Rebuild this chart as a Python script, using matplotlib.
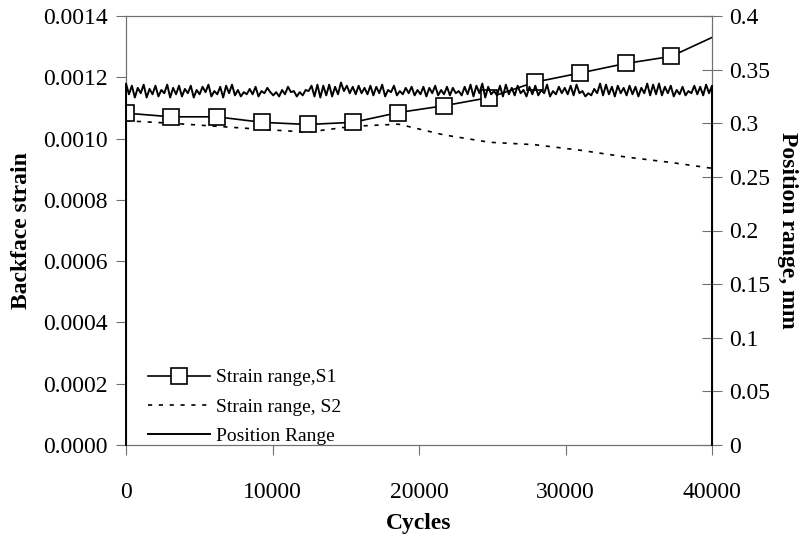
import numpy as np
import matplotlib
matplotlib.use("Agg")
import matplotlib.pyplot as plt

plt.rcParams['font.family'] = ['Liberation Serif', 'DejaVu Serif']

# Strain range S1 (markers every ~3100 cycles, final point without marker)
s1_cycles = [0, 3100, 6200, 9300, 12400, 15500, 18600, 21700, 24800, 27900, 31000, 34100, 37200, 40000]
s1_values = [0.001083, 0.001071, 0.001071, 0.001053, 0.001046, 0.001053, 0.001085,
             0.001107, 0.001134, 0.001184, 0.001214, 0.001245, 0.001268, 0.00133]

# Strain range S2
s2_cycles = [0, 3100, 6200, 9300, 12400, 15500, 18600, 21700, 24800, 27900, 31000, 34100, 37200, 40000]
s2_values = [0.001058, 0.001050, 0.001040, 0.001030, 0.001021, 0.001040, 0.001047,
             0.001012, 0.000988, 0.000980, 0.000962, 0.000940, 0.000922, 0.000903]

# Position range (mm), noisy record
pos_values = [
    0.337, 0.327, 0.335, 0.324, 0.333, 0.328, 0.336, 0.324, 0.332, 0.327,
    0.335, 0.325, 0.331, 0.328, 0.336, 0.324, 0.333, 0.327, 0.335, 0.325,
    0.332, 0.328, 0.335, 0.324, 0.331, 0.327, 0.334, 0.329, 0.336, 0.325,
    0.330, 0.327, 0.334, 0.324, 0.335, 0.328, 0.336, 0.326, 0.331, 0.325,
    0.329, 0.327, 0.332, 0.327, 0.334, 0.325, 0.330, 0.328, 0.333, 0.329,
    0.326, 0.329, 0.325, 0.331, 0.327, 0.334, 0.329, 0.330, 0.325, 0.329,
    0.326, 0.331, 0.330, 0.335, 0.325, 0.336, 0.324, 0.335, 0.326, 0.336,
    0.325, 0.334, 0.327, 0.338, 0.330, 0.335, 0.328, 0.334, 0.327, 0.335,
    0.328, 0.333, 0.327, 0.335, 0.326, 0.334, 0.328, 0.336, 0.325, 0.331,
    0.329, 0.335, 0.326, 0.330, 0.327, 0.333, 0.328, 0.334, 0.326, 0.331,
    0.327, 0.334, 0.325, 0.333, 0.328, 0.335, 0.326, 0.331, 0.327, 0.334,
    0.326, 0.333, 0.328, 0.330, 0.326, 0.334, 0.327, 0.336, 0.325, 0.335,
    0.328, 0.337, 0.324, 0.334, 0.327, 0.330, 0.326, 0.335, 0.325, 0.336,
    0.327, 0.333, 0.326, 0.335, 0.328, 0.331, 0.325, 0.334, 0.327, 0.335,
    0.326, 0.331, 0.328, 0.336, 0.325, 0.330, 0.327, 0.334, 0.328, 0.333,
    0.327, 0.335, 0.326, 0.336, 0.328, 0.330, 0.325, 0.328, 0.326, 0.332,
    0.328, 0.337, 0.326, 0.336, 0.327, 0.334, 0.325, 0.335, 0.328, 0.333,
    0.326, 0.335, 0.327, 0.334, 0.325, 0.333, 0.328, 0.337, 0.326, 0.336,
    0.327, 0.337, 0.326, 0.334, 0.328, 0.335, 0.325, 0.331, 0.327, 0.334,
    0.326, 0.330, 0.328, 0.335, 0.327, 0.334, 0.326, 0.336, 0.328, 0.335,
]
pos_cycles = [0.0] + list(np.linspace(0, 40000, len(pos_values))) + [40000.0]
pos_series = [0.0] + pos_values + [0.0]

left_ticks = [0.0, 0.0002, 0.0004, 0.0006, 0.0008, 0.0010, 0.0012, 0.0014]
left_ticklabels = ["0.0000", "0.0002", "0.0004", "0.0006", "0.0008", "0.0010", "0.0012", "0.0014"]
right_ticks = [0, 0.05, 0.1, 0.15, 0.2, 0.25, 0.3, 0.35, 0.4]
right_ticklabels = ["0", "0.05", "0.1", "0.15", "0.2", "0.25", "0.3", "0.35", "0.4"]
x_ticks = [0, 10000, 20000, 30000, 40000]
x_ticklabels = ["0", "10000", "20000", "30000", "40000"]

fig = plt.figure(figsize=(8.06, 5.46), dpi=100)
ax = fig.add_axes([126/806, 1 - 445/546, 586/806, 429/546])
ax2 = ax.twinx()

spine_col = '#707070'
for a in (ax, ax2):
    for s in a.spines.values():
        s.set_color(spine_col)
        s.set_linewidth(0.8)

l1, = ax.plot(s1_cycles, s1_values, color='black', lw=1.2, marker='s', markersize=11,
              markerfacecolor='white', markeredgecolor='black', markeredgewidth=1.2,
              markevery=list(range(13)), label='Strain range,S1', zorder=5)
l2, = ax.plot(s2_cycles, s2_values, color='black', lw=1.2, linestyle=(0, (2.5, 4)),
              label='Strain range, S2', zorder=4)
l3, = ax2.plot(pos_cycles, pos_series, color='black', lw=1.4, label='Position Range',
               clip_on=False, zorder=3)

ax.set_xlim(0, 40000)
ax.set_ylim(0, 0.0014)
ax2.set_ylim(0, 0.4)

ax.set_xticks(x_ticks)
ax.set_xticklabels(x_ticklabels)
ax.set_yticks(left_ticks)
ax.set_yticklabels(left_ticklabels)
ax2.set_yticks(right_ticks)
ax2.set_yticklabels(right_ticklabels)

ax.tick_params(axis='both', direction='out', length=7, width=0.8, color=spine_col,
               labelsize=17, pad=6)
ax.tick_params(axis='x', pad=20)
ax2.tick_params(axis='y', direction='inout', length=14, width=0.8, color=spine_col,
                labelsize=17, pad=5)

ax.set_xlabel('Cycles', fontsize=17, fontweight='bold', labelpad=7)
ax.set_ylabel('Backface strain', fontsize=17, fontweight='bold', labelpad=8)
ax2.set_ylabel('Position range, mm', fontsize=17, fontweight='bold', rotation=270, labelpad=20)

ax2.set_zorder(ax.get_zorder() + 1)
ax2.patch.set_visible(False)

ax.legend(handles=[l1, l2, l3], loc='lower left', bbox_to_anchor=(0.038, 0.0),
          frameon=False, fontsize=14, handlelength=3.2, handletextpad=0.3,
          labelspacing=0.6, borderaxespad=0, borderpad=0)

fig.savefig('out.png', dpi=100)
